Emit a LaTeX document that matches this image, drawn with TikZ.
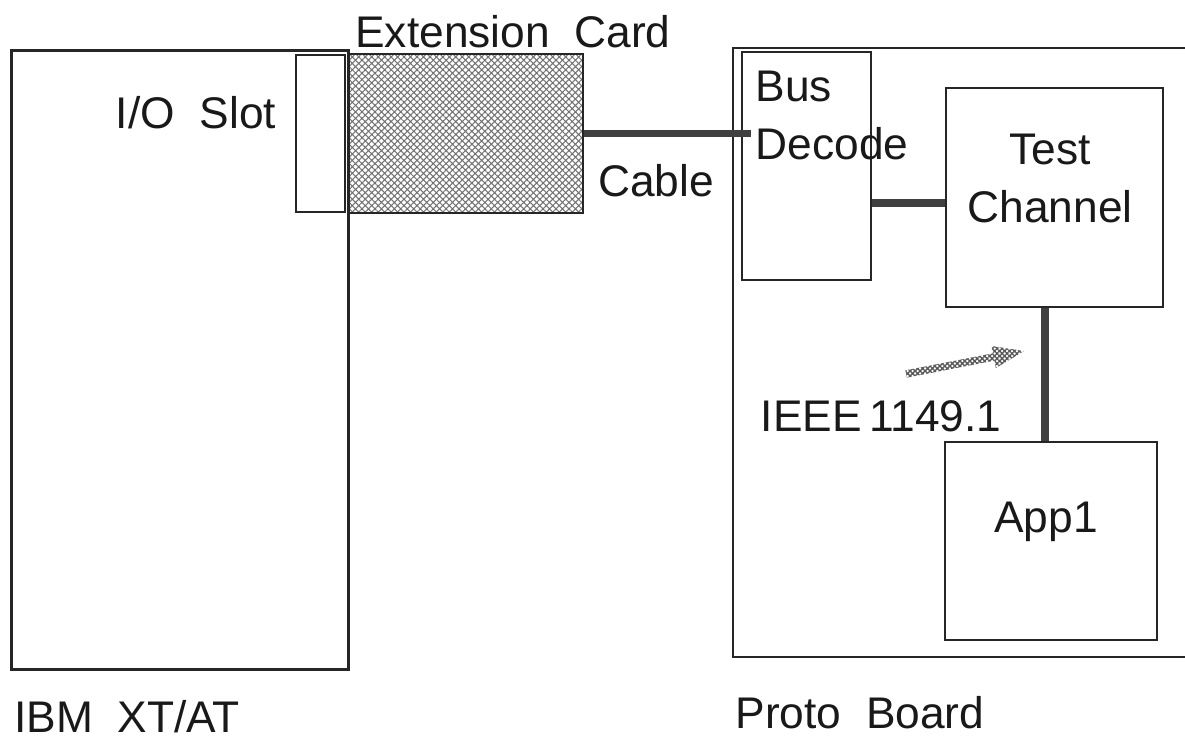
\documentclass[tikz,border=0pt]{standalone}
\usepackage{fontspec}
\setmainfont{Liberation Sans}
\usetikzlibrary{patterns.meta,shapes.arrows}

\begin{document}
\begin{tikzpicture}[x=0.01cm,y=-0.01cm,font=\fontsize{12.6}{16.5}\selectfont,box/.style={draw=black!85,line width=0.8pt,inner sep=0pt},card/.style={box,pattern={Hatch[angle=45,distance=1.3pt,line width=0.3pt]},pattern color=black!55},wire/.style={draw=black!75,line width=2pt},txt/.style={inner sep=0pt,text=black!90}]
\useasboundingbox (0,0) rectangle (1185,739);
% PC side
\node[box,minimum width=3.36cm,minimum height=6.18cm] (ibm) at (180,360){};
\node[box,minimum width=0.49cm,minimum height=1.57cm] (slot) at (320.5,133.5){};
\node[card,minimum width=2.34cm,minimum height=1.59cm] (card) at (466,133.5){};
% proto board, cut off at the right edge
\draw[box] (1186,48) -| (733,657) -- (1186,657);
\node[box,minimum width=1.29cm,minimum height=2.28cm] (bus) at (806.5,166){};
\node[box,minimum width=2.17cm,minimum height=2.19cm] (test) at (1054.5,197.5){};
\node[box,minimum width=2.12cm,minimum height=1.98cm] (app) at (1051,541){};
\node[single arrow,single arrow head extend=0.075cm,single arrow tip angle=40,inner sep=0.03cm,minimum height=1.2cm,rotate=11,pattern={Hatch[angle=45,distance=1pt,line width=0.4pt]},pattern color=black!65] (jtag) at (960,363.5){};
% labels
\node[txt] (cardl) at (513,32){Extension\ \ Card};
\node[txt] (slotl) at (196,113){I/O\ \ Slot};
\node[txt] (cablel) at (656,181){Cable};
\node[txt,align=left,anchor=north west] (busl) at (755,70){Bus\\Decode};
\node[txt,align=center] (testl) at (1050,178){Test\\Channel};
\node[txt] (appl) at (1046,522){App1};
\node[txt] (ieeel) at (881,416){IEEE\,1149.1};
\node[txt] (ibml) at (127,717){IBM\ \ XT/AT};
\node[txt] (protol) at (860,713){Proto\ \ Board};
% connections
\draw[wire] (card.east) -- ([xshift=0.1cm]card.east -| bus.west);\draw[wire] ([yshift=-0.055cm]test.west -| bus.east) -- ([yshift=-0.055cm]test.west);\draw[wire] ([xshift=-0.06cm]app.north) -- ([xshift=-0.06cm]app.north |- test.south);
\end{tikzpicture}
\end{document}
